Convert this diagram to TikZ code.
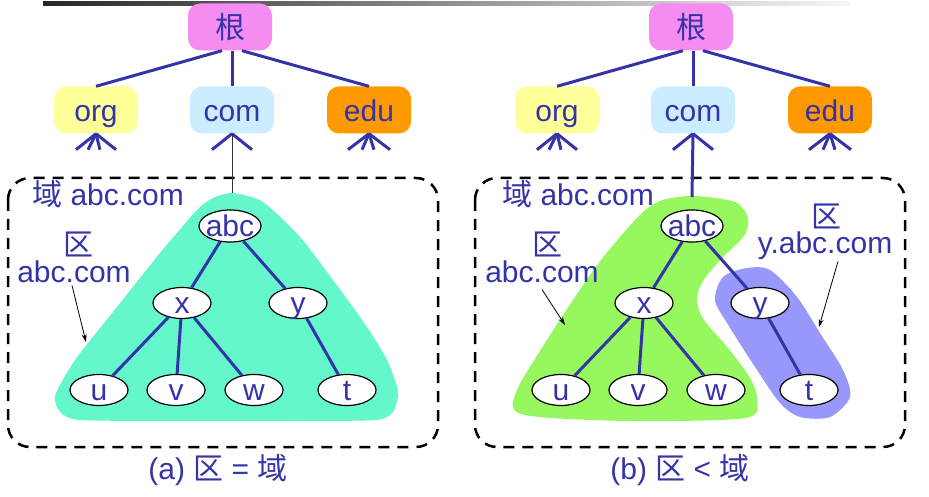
\documentclass[tikz,border=0pt]{standalone}
\usepackage{fontspec}
\setmainfont{Liberation Sans}
\newfontfamily\cjk{Noto Sans CJK SC}
\usetikzlibrary{shapes.geometric,arrows.meta}
\definecolor{tblue}{RGB}{52,52,168}
\definecolor{rootc}{RGB}{245,140,240}
\definecolor{orgc}{RGB}{255,255,153}
\definecolor{comc}{RGB}{204,236,255}
\definecolor{educ}{RGB}{255,153,0}
\definecolor{aquac}{RGB}{100,247,204}
\definecolor{greenc}{RGB}{150,247,95}
\definecolor{lavc}{RGB}{152,152,250}
\newcommand{\et}[1]{\raisebox{-10pt}[0pt][0pt]{\makebox[0pt]{#1}}}
\tikzset{
  topbox/.style={rounded corners=12pt, minimum width=84pt, minimum height=47pt,
    inner sep=0pt, text height=24pt, text depth=0pt, text=tblue},
  ell/.style={ellipse, draw=black, line width=1.2pt, fill=white, minimum width=58pt,
    minimum height=31pt, inner sep=0pt, text=tblue},
  tedge/.style={draw=tblue, line width=3pt},
  lbl/.style={text=tblue, inner sep=0pt, anchor=base},
  ptr/.style={-{Stealth[length=8pt,width=5pt]}, line width=0.8pt, draw=black},
  dbox/.style={draw=black, line width=2.5pt, dash pattern=on 11pt off 8pt, rounded corners=22pt}
}
\begin{document}
\begin{tikzpicture}[x=1pt,y=-1pt,font=\fontsize{30}{34}\selectfont]
\useasboundingbox (0,0) rectangle (929,497);
% header line
\shade[left color=black!85, middle color=black!55, right color=black!3] (43,2) rectangle (850,6);

% dashed boxes
\draw[dbox] (8,178) rectangle (438,447);
\draw[dbox] (475,178) rectangle (905,447);

% zone shapes
\fill[aquac] plot[smooth cycle, tension=0.4] coordinates {
  (233,193) (263,202) (300,237) (333,280) (367,327) (388,362) (398,392) (393,412)
  (376,420) (300,421) (160,421) (80,420) (61,413) (55,396) (75,360) (117,307)
  (160,253) (197,210) (213,198)};
\fill[greenc] plot[smooth cycle, tension=0.5] coordinates {
  (693,196) (735,202) (748,218) (744,236) (722,258) (703,281) (697,300) (704,320)
  (728,348) (750,378) (757,400) (745,418) (630,421) (525,415) (515,395) (545,343)
  (595,268) (637,218) (660,201)};
\fill[lavc] plot[smooth cycle, tension=0.5] coordinates {
  (747,268) (770,270) (797,297) (820,333) (843,370) (850,397) (830,417) (800,417)
  (780,403) (757,370) (727,323) (715,300) (723,277)};

% ---------- panel (a) ----------
\node[topbox, fill=rootc] (ar) at (230,27) {\cjk 根};
\node[topbox, fill=orgc] (ao) at (96,110) {org};
\node[topbox, fill=comc] (ac) at (232,110) {com};
\node[topbox, fill=educ] (ae) at (369,110) {edu};
\draw[tedge] ([xshift=-8pt]ar.south) -- (ao.north);
\draw[tedge] ([xshift=2pt]ar.south) -- (ac.north);
\draw[tedge] ([xshift=12pt]ar.south) -- (ae.north);
\draw[tedge] (ao.south) -- ++(-20,16);
\draw[tedge] (ao.south) -- ++(-8,16);
\draw[tedge] (ao.south) -- ++(4,16);
\draw[tedge] (ao.south) -- ++(20,16);
\draw[tedge] (ae.south) -- ++(-21,16);
\draw[tedge] (ae.south) -- ++(-7,16);
\draw[tedge] (ae.south) -- ++(5,16);
\draw[tedge] (ae.south) -- ++(21,16);
\draw[tedge] (ac.south) -- ++(-20,16);
\draw[tedge] (ac.south) -- ++(20,16);
\coordinate (atop) at (232,193);
\draw[line width=1pt, black!80] (ac.south) -- (atop);

\node[ell, minimum width=62pt, minimum height=32pt] (aabc) at (230,226) {\et{abc}};
\node[ell] (ax) at (182,303) {\et{x}};
\node[ell] (ay) at (298,303) {\et{y}};
\node[ell] (au) at (99,390) {\et{u}};
\node[ell] (av) at (176,390) {\et{v}};
\node[ell] (aw) at (254,390) {\et{w}};
\node[ell] (at) at (347,390) {\et{t}};
\draw[tedge] (aabc) -- (ax);
\draw[tedge] (aabc) -- (ay);
\draw[tedge] (ax) -- (au);
\draw[tedge] (ax) -- (av);
\draw[tedge] (ax) -- (aw);
\draw[tedge] (ay) -- (at);

\node[lbl, anchor=base west] (adom) at (32,206) {{\cjk 域} abc.com};
\node[lbl] (aqu) at (78,255) {\cjk 区};
\node[lbl] (azl) at (74,282) {abc.com};
\coordinate (atip) at (86,342);
\draw[ptr] ([xshift=-2pt,yshift=-3pt]azl.south) -- (atip);
\node[lbl] (acap) at (218,479) {(a) {\cjk 区} = {\cjk 域}};

% ---------- panel (b) ----------
\begin{scope}[xshift=461pt]
\node[topbox, fill=rootc] (br) at (230,27) {\cjk 根};
\node[topbox, fill=orgc] (bo) at (96,110) {org};
\node[topbox, fill=comc] (bc) at (232,110) {com};
\node[topbox, fill=educ] (be) at (369,110) {edu};
\draw[tedge] ([xshift=-8pt]br.south) -- (bo.north);
\draw[tedge] ([xshift=2pt]br.south) -- (bc.north);
\draw[tedge] ([xshift=12pt]br.south) -- (be.north);
\draw[tedge] (bo.south) -- ++(-20,16);
\draw[tedge] (bo.south) -- ++(-8,16);
\draw[tedge] (bo.south) -- ++(4,16);
\draw[tedge] (bo.south) -- ++(20,16);
\draw[tedge] (be.south) -- ++(-21,16);
\draw[tedge] (be.south) -- ++(-7,16);
\draw[tedge] (be.south) -- ++(5,16);
\draw[tedge] (be.south) -- ++(21,16);
\draw[tedge] (bc.south) -- ++(-20,16);
\draw[tedge] (bc.south) -- ++(20,16);
\coordinate (btop) at (231,197);
\draw[tedge] (bc.south) -- (btop);

\node[ell, minimum width=62pt, minimum height=32pt] (babc) at (231,226) {\et{abc}};
\node[ell] (bx) at (183,303) {\et{x}};
\node[ell] (by) at (299,303) {\et{y}};
\node[ell] (bu) at (100,390) {\et{u}};
\node[ell] (bv) at (177,390) {\et{v}};
\node[ell] (bw) at (255,390) {\et{w}};
\node[ell] (bt) at (348,390) {\et{t}};
\draw[tedge] (babc) -- (bx);
\draw[tedge] (babc) -- (by);
\draw[tedge] (bx) -- (bu);
\draw[tedge] (bx) -- (bv);
\draw[tedge] (bx) -- (bw);
\draw[tedge] (by) -- (bt);
\end{scope}

\node[lbl, anchor=base west] (bdom) at (502,206) {{\cjk 域} abc.com};
\node[lbl] (bqu) at (547,255) {\cjk 区};
\node[lbl] (bzl) at (542,282) {abc.com};
\coordinate (btip) at (565,325);
\draw[ptr] ([yshift=-7pt]bzl.south) -- (btip);
\node[lbl] (bqu2) at (826,228) {\cjk 区};
\node[lbl] (bzl2) at (825,253) {y.abc.com};
\coordinate (btip2) at (819,327);
\draw[ptr] ([xshift=13pt,yshift=-2pt]bzl2.south) -- (btip2);
\node[lbl] (bcap) at (680,479) {(b) {\cjk 区} < {\cjk 域}};
\end{tikzpicture}
\end{document}
